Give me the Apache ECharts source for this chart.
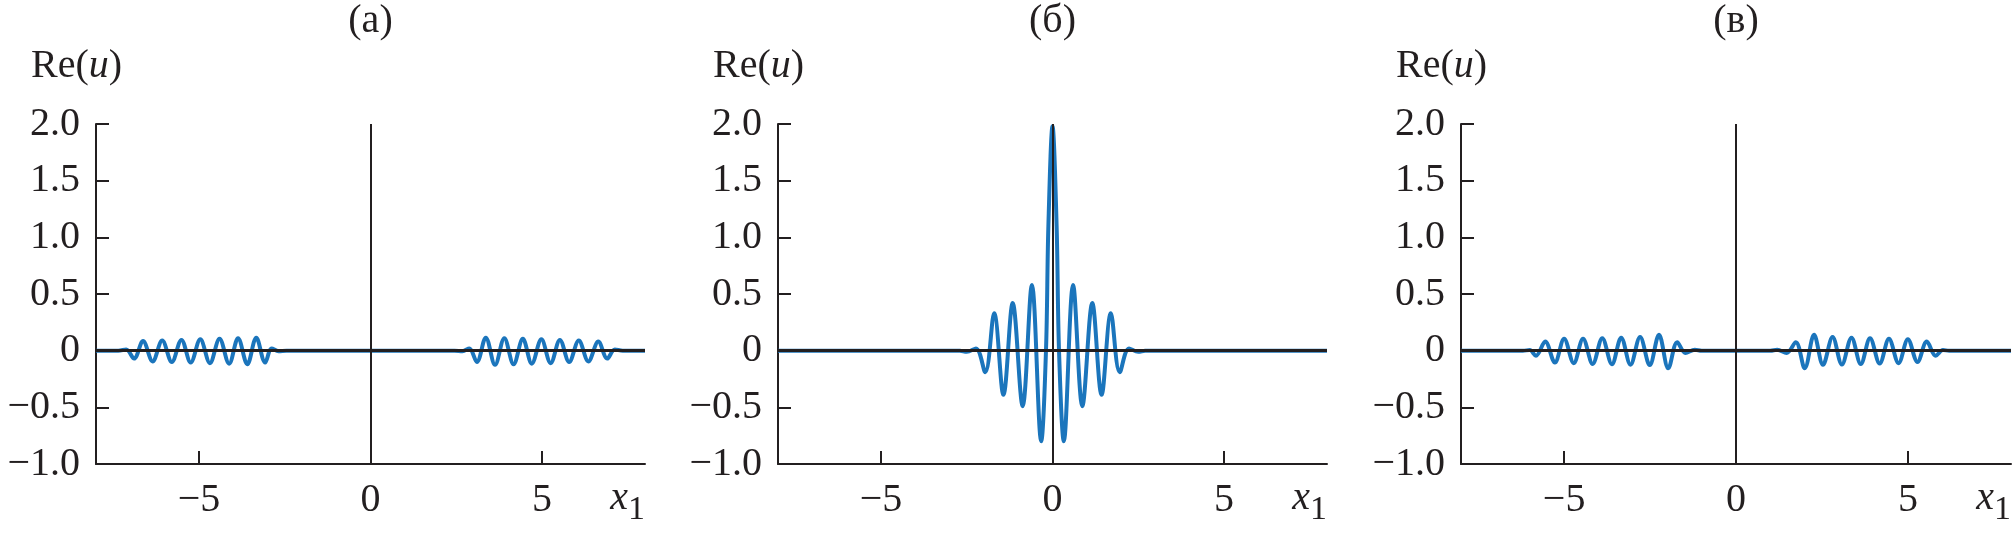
<!DOCTYPE html>
<html>
<head>
<meta charset="utf-8">
<script src="https://cdn.jsdelivr.net/npm/echarts@6/dist/echarts.min.js"></script>
<style>
html,body{margin:0;padding:0;background:#ffffff;}
#chart{width:2012px;height:534px;}
</style>
</head>
<body>
<div id="chart"></div>
<script>
// ---------- data ----------
const panelTitles = ['(а)', '(б)', '(в)'];

const xTickValues = [-5, 0, 5];
const xTickLabels = ['\u22125', '0', '5'];
const yTickValues = [-1, -0.5, 0, 0.5, 1, 1.5, 2];
const yTickLabels = ['\u22121.0', '\u22120.5', '0', '0.5', '1.0', '1.5', '2.0'];

// panel (а): two wave packets near x = -5 and x = +5
const aX = [-8, -7.35, -7.12, -6.89, -6.63, -6.35, -6.07, -5.79, -5.51, -5.24, -4.96, -4.68, -4.40, -4.12, -3.86, -3.59, -3.33, -3.07, -2.88, -2.68, -2.45,
            2.45, 2.68, 2.88, 3.10, 3.36, 3.63, 3.90, 4.17, 4.44, 4.70, 4.98, 5.25, 5.52, 5.79, 6.07, 6.35, 6.64, 6.90, 7.12, 7.35, 8];
const aY = [0, 0, 0.01, -0.07, 0.085, -0.095, 0.09, -0.10, 0.095, -0.105, 0.10, -0.11, 0.105, -0.115, 0.11, -0.12, 0.115, -0.105, 0.02, -0.005, 0,
            0, -0.005, 0.02, -0.10, 0.115, -0.125, 0.11, -0.12, 0.105, -0.115, 0.10, -0.11, 0.095, -0.10, 0.09, -0.095, 0.08, -0.07, 0.01, 0, 0];

// panel (б): packets overlapping at x = 0
const bX = [-8, -2.7, -2.5, -2.23, -1.96, -1.70, -1.43, -1.16, -0.87, -0.60, -0.33, -0.19, -0.12, 0, 0.12, 0.19, 0.33, 0.60, 0.87, 1.16, 1.43, 1.70, 1.96, 2.23, 2.5, 2.7, 8];
const bY = [0, 0, -0.01, 0.02, -0.19, 0.33, -0.39, 0.42, -0.49, 0.58, -0.80, 0, 1.1, 1.98, 1.1, 0, -0.80, 0.58, -0.49, 0.42, -0.39, 0.33, -0.19, 0.02, -0.01, 0, 0];

// panel (в): packets after passing through each other
const cX = [-8, -6.2, -6.0, -5.82, -5.55, -5.27, -5.00, -4.72, -4.45, -4.17, -3.89, -3.61, -3.34, -3.07, -2.79, -2.51, -2.24, -1.97, -1.71, -1.47, -1.2, -1.0,
            1.0, 1.2, 1.47, 1.74, 2.00, 2.27, 2.53, 2.81, 3.08, 3.36, 3.63, 3.90, 4.18, 4.45, 4.73, 5.00, 5.28, 5.55, 5.81, 6.02, 6.2, 8];
const cY = [0, 0, 0.005, -0.045, 0.08, -0.105, 0.105, -0.11, 0.105, -0.117, 0.11, -0.12, 0.115, -0.124, 0.12, -0.127, 0.14, -0.155, 0.075, -0.02, 0.008, 0,
            0, 0.008, -0.02, 0.075, -0.155, 0.14, -0.125, 0.12, -0.122, 0.115, -0.118, 0.11, -0.113, 0.105, -0.11, 0.10, -0.10, 0.08, -0.045, 0.005, 0, 0];

// ---------- styling / layout ----------
const FONT = "'Liberation Serif', 'Times New Roman', 'DejaVu Serif', serif";
const INK = '#231f20';
const BLUE = '#1b75bc';
const FS = 40;
const grids = [
  {left: 96, width: 549},
  {left: 778, width: 549},
  {left: 1461, width: 550}
];
const TOP = 124, HEIGHT = 340;
const panels = [[aX, aY], [bX, bY], [cX, cY]];

const txt = {fontFamily: FONT, fontSize: FS, color: INK, fontWeight: 'normal'};

const option = {
  animation: false,
  backgroundColor: '#ffffff',
  textStyle: {fontFamily: FONT, fontSize: FS},
  title: [],
  grid: grids.map(g => ({left: g.left, top: TOP, width: g.width, height: HEIGHT})),
  xAxis: grids.map((g, i) => ({
    type: 'value', gridIndex: i, min: -8, max: 8,
    axisLine: {onZero: false, lineStyle: {color: INK, width: 2}},
    axisTick: {inside: true, length: 13, customValues: [-5, 5], lineStyle: {color: INK, width: 2}},
    axisLabel: {
      customValues: xTickValues,
      formatter: v => xTickLabels[xTickValues.indexOf(v)],
      margin: 16, fontFamily: FONT, fontSize: FS, color: INK
    },
    splitLine: {show: false}
  })),
  yAxis: grids.map((g, i) => ({
    type: 'value', gridIndex: i, min: -1, max: 2, interval: 0.5,
    axisLine: {onZero: false, lineStyle: {color: INK, width: 2}},
    axisTick: {inside: true, length: 13, customValues: yTickValues, lineStyle: {color: INK, width: 2}},
    axisLabel: {
      customValues: yTickValues,
      formatter: v => yTickLabels[yTickValues.indexOf(v)],
      hideOverlap: false,
      margin: 16, fontFamily: FONT, fontSize: FS, color: INK
    },
    splitLine: {show: false}
  })),
  series: panels.map((p, i) => ({
    type: 'line',
    xAxisIndex: i, yAxisIndex: i,
    data: p[0].map((x, k) => [x, p[1][k]]),
    showSymbol: false,
    symbol: 'none',
    smooth: 0.35,
    lineStyle: {color: BLUE, width: 4},
    markLine: {
      silent: true,
      symbol: ['none', 'none'],
      label: {show: false},
      data: [
        {yAxis: 0, lineStyle: {color: INK, width: 3, type: 'solid'}},
        {xAxis: 0, lineStyle: {color: INK, width: 2, type: 'solid'}}
      ]
    }
  }))
};

grids.forEach((g, i) => {
  option.title.push({
    text: panelTitles[i], left: g.left + g.width / 2, top: 21,
    textAlign: 'center', textVerticalAlign: 'middle', padding: 0,
    textStyle: txt
  });
  option.title.push({
    text: '{r|Re(}{i|u}{r|)}', left: g.left - 65, top: 66,
    textAlign: 'left', textVerticalAlign: 'middle', padding: 0,
    textStyle: {fontFamily: FONT, rich: {
      r: Object.assign({}, txt, {lineHeight: 40}),
      i: Object.assign({}, txt, {fontStyle: 'italic', lineHeight: 40})
    }}
  });
  option.title.push({
    text: '{i|x}{s|1}', left: g.left + g.width, top: 498,
    textAlign: 'right', textVerticalAlign: 'middle', padding: 0,
    textStyle: {fontFamily: FONT, rich: {
      i: Object.assign({}, txt, {fontStyle: 'italic', lineHeight: 40}),
      s: Object.assign({}, txt, {fontSize: 34, lineHeight: 34, padding: [24, 0, 0, 0]})
    }}
  });
});

const chart = echarts.init(document.getElementById('chart'), null, {renderer: 'canvas'});
chart.setOption(option);
</script>
</body>
</html>
